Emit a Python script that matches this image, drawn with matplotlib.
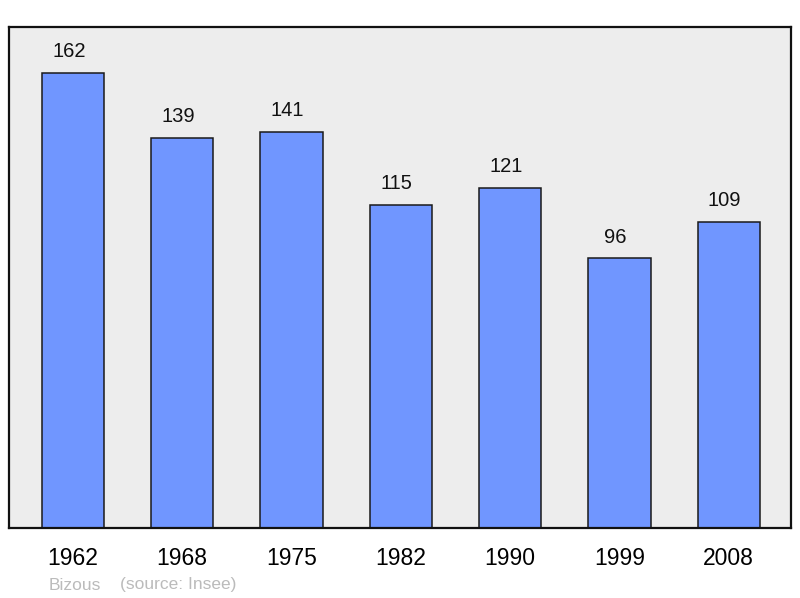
import matplotlib
matplotlib.use("Agg")
import matplotlib.pyplot as plt
import numpy as np

plt.rcParams["font.family"] = ["Liberation Sans", "DejaVu Sans"]

years = ["1962", "1968", "1975", "1982", "1990", "1999", "2008"]
population = [162, 139, 141, 115, 121, 96, 109]

fig = plt.figure(figsize=(8.0, 5.98), dpi=100)
ax = fig.add_axes([9 / 800, 70 / 598, 782 / 800, 501 / 598])
ax.set_facecolor("#ededed")

x = np.arange(len(years))
ax.bar(x, population, width=0.57, color="#7096ff", edgecolor="#1a1a1a",
       linewidth=1.1, zorder=2)
for xi, v in zip(x, population):
    ax.annotate(str(v), (xi, v), xytext=(-3, 8.5), textcoords="offset points",
                ha="center", va="bottom", fontsize=14.5, color="#111111")

ax.set_xlim(-0.585, 6.57)
ax.set_ylim(0, 178.4)
ax.set_xticks(x)
ax.set_xticklabels(years, fontsize=16.5)
ax.tick_params(axis="x", length=0, pad=14)
ax.set_yticks([])
for sp in ax.spines.values():
    sp.set_linewidth(1.6)
    sp.set_color("#111111")

fig.text(49 / 800, 1 - 585 / 598, "Bizous", fontsize=12.5, color="#bbbbbb",
         va="center", ha="left")
fig.text(120 / 800, 1 - 585 / 598, "(source: Insee)", fontsize=12.5,
         color="#bbbbbb", va="center", ha="left")

fig.savefig("out.png", facecolor="white")
